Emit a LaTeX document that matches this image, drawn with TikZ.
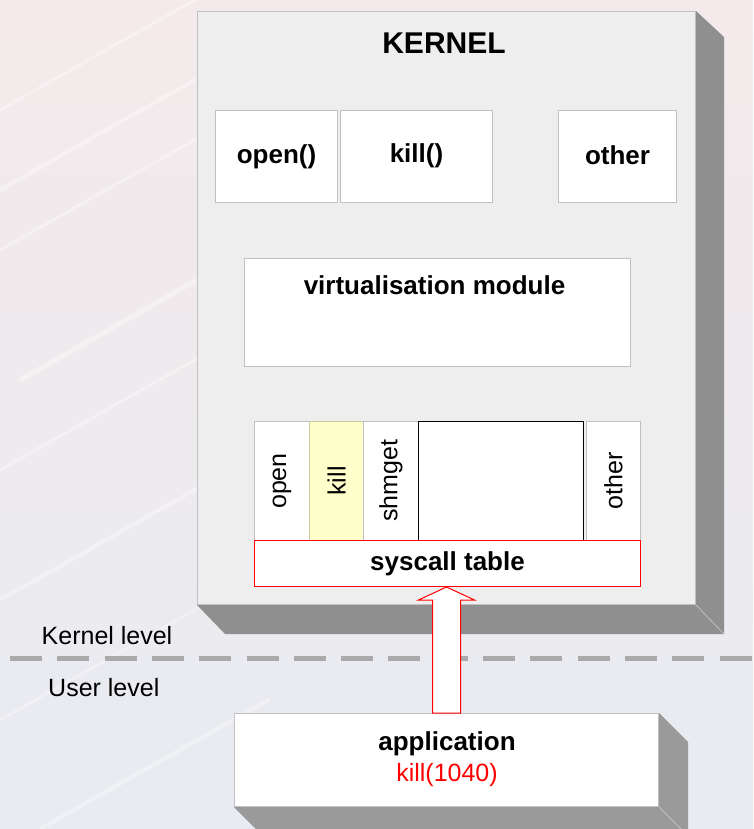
\documentclass[tikz,border=0pt]{standalone}
\usepackage{fontspec}
\setmainfont{Liberation Sans}
\usetikzlibrary{calc}
\definecolor{kfill}{HTML}{EEEEEE}
\definecolor{bord}{HTML}{C0C0C0}
\definecolor{shade}{HTML}{8F8F8F}
\definecolor{ashade}{HTML}{9A9A9A}
\definecolor{killy}{HTML}{FFFFCC}
\definecolor{dashc}{HTML}{AAAAAA}
\definecolor{bgtop}{HTML}{F4EAEB}
\definecolor{bgbot}{HTML}{E8EBF1}
\definecolor{redc}{HTML}{FF0000}
\tikzset{
  box/.style={draw=bord, fill=white, line width=1pt, anchor=north west, inner sep=0pt},
  shadowface/.style={fill=shade, draw=none},
  boldlbl/.style={font=\bfseries\fontsize{26}{30}\selectfont},
  reglbl/.style={font=\fontsize{25}{29}\selectfont},
  col/.style={draw=bord, fill=white, line width=1pt, anchor=north west, inner sep=0pt, minimum height=119pt},
}
\begin{document}
\begin{tikzpicture}[x=1pt,y=-1pt]
\useasboundingbox (0,0) rectangle (753,829);
% background
\shade[top color=bgtop, bottom color=bgbot] (0,0) rectangle (753,829);
\begin{scope}
\clip (0,0) rectangle (753,829);
\foreach \a/\b/\w in {0/190/4, 0/250/3, 20/380/5, 0/470/3, 0/600/4, 0/720/3, 40/829/4, 0/110/3}{
  \draw[white, opacity=0.35, line width=\w pt] (\a,\b) -- ++(230,-130);
}
\end{scope}
% kernel box
\node[box, draw=bord, fill=kfill, minimum width=498pt, minimum height=593pt] (kern) at (197,11) {};
\fill[shadowface] (kern.north east) -- ++(28,26) -- ($(kern.south east)+(28,29)$) -- (kern.south east) -- cycle;
\fill[shadowface] (kern.south west) -- ++(28,29) -- ($(kern.south east)+(28,29)$) -- (kern.south east) -- cycle;
\draw[bord, line width=0.8pt] (kern.south east) -- ++(28,29);
\node[font=\bfseries\fontsize{30}{34}\selectfont] (ktitle) at (444,43) {KERNEL};
% top boxes
\node[box, minimum width=122pt, minimum height=92pt] (bopen) at (215,110) {};
\node[boldlbl] at (bopen.center) {open()};
\node[box, minimum width=152pt, minimum height=92pt] (bkill) at (340,110) {};
\node[boldlbl] at ($(bkill.center)+(0,-1)$) {kill()};
\node[box, minimum width=118pt, minimum height=92pt] (bother) at (558,110) {};
\node[boldlbl] at ($(bother.center)+(0,-1)$) {other};
% virtualisation module
\node[box, minimum width=386pt, minimum height=108pt] (virt) at (244,258) {};
\node[boldlbl] at ($(virt.north)+(-3,27)$) {virtualisation module};
% syscall columns
\node[col, minimum width=55pt] (copen) at (254,421) {};
\node[col, fill=killy, draw=bord!80!yellow, minimum width=54pt] (ckill) at (309,421) {};
\node[col, minimum width=55pt] (cshm) at (363,421) {};
\node[col, draw=black, minimum width=165pt] (cblank) at (418,421) {};
\node[col, minimum width=54pt] (cother) at (586,421) {};
\node[reglbl, rotate=90] at (copen.center) {open};
\node[reglbl, rotate=90] at (ckill.center) {kill};
\node[reglbl, rotate=90] at (cshm.center) {shmget};
\node[reglbl, rotate=90] at (cother.center) {other};
% syscall table
\node[box, draw=redc, minimum width=386pt, minimum height=46pt] (tbl) at (254,540) {};
\node[boldlbl] at (tbl.center) {syscall table};
% application box
\node[box, minimum width=424pt, minimum height=93pt] (app) at (234,713) {};
\fill[ashade] (app.north east) -- ++(29,29) -- ($(app.south east)+(29,29)$) -- (app.south east) -- cycle;
\fill[ashade] (app.south west) -- ++(29,29) -- ($(app.south east)+(29,29)$) -- (app.south east) -- cycle;
\draw[bord, line width=0.8pt] (app.south east) -- ++(29,29);
\node[boldlbl] (apptxt) at (447,744) {application};
\node[reglbl, text=redc] (appcall) at (447,775) {kill(1040)};
% dashed separator
\coordinate (dl) at (10,658.5);
\coordinate (dr) at (753,658.5);
\draw[dashc, line width=5pt, dash pattern=on 32pt off 15.3pt] (dl) -- (dr);
\node[reglbl, anchor=west, inner sep=0pt] (klev) at (41.5,636) {Kernel level};
\node[reglbl, anchor=west, inner sep=0pt] (ulev) at (48,688) {User level};
% hollow arrow from application to syscall table
\coordinate (tip) at (tbl.south -| app.north);
\draw[redc, fill=white, line width=1pt, line join=miter]
  (tip) -- ($(tip)+(-28,13)$) -- ($(tip)+(-14,13)$) -- ($(app.north)+(-14,0)$)
  -- ($(app.north)+(14,0)$) -- ($(tip)+(14,13)$) -- ($(tip)+(28,13)$) -- cycle;
\end{tikzpicture}
\end{document}
